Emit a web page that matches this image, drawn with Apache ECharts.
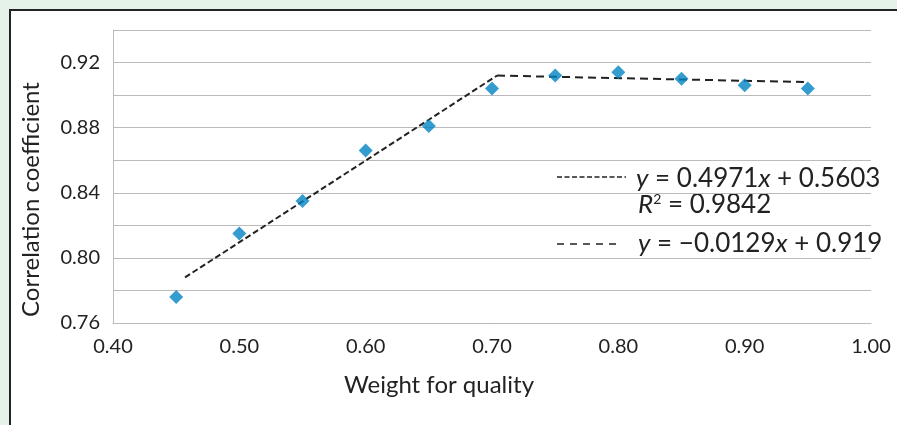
<!DOCTYPE html>
<html>
<head>
<meta charset="utf-8">
<script src="https://cdn.jsdelivr.net/npm/echarts@6/dist/echarts.min.js"></script>
<style>
	html, body { margin: 0; padding: 0; background: #e5f2ea; }
	#panel { position: absolute; left: 9px; top: 9px; right: 0; bottom: 0; background: #fff;
		border-top: 2px solid #222; border-left: 2px solid #222; }
	#chart { position: absolute; left: 0; top: 0; width: 897px; height: 425px; }
</style>
</head>
<body>
<div id="panel"></div>
<div id="chart"></div>
<script>
// 观测点（质量权重, 相关系数）
var weights = [0.45, 0.50, 0.55, 0.60, 0.65, 0.70, 0.75, 0.80, 0.85, 0.90, 0.95];
var coefficients = [0.776, 0.815, 0.835, 0.866, 0.881, 0.904, 0.912, 0.914, 0.910, 0.906, 0.904];

// 两段趋势线的端点
var trendRise = [[0.457, 0.788], [0.704, 0.912]];
var trendFlat = [[0.704, 0.912], [0.949, 0.908]];

var FONT = 'Lato';

var chart = echarts.init(document.getElementById('chart'));

var points = [];
for (var i = 0; i < weights.length; i++) {
	points.push([weights[i], coefficients[i]]);
}

var option = {
	backgroundColor : 'transparent',
	animation : false,
	grid : {
		left : 113,
		top : 30,
		right : 26,
		bottom : 102
	},
	xAxis : {
		type : 'value',
		min : 0.4,
		max : 1.0,
		interval : 0.1,
		name : 'Weight for quality',
		nameLocation : 'middle',
		nameGap : 50,
		nameTextStyle : { fontFamily : FONT, fontSize : 24, color : '#222', padding : [0, 106, 0, 0] },
		axisLine : { show : true, lineStyle : { color : '#bbbbbb', width : 1 } },
		axisTick : { show : false },
		splitLine : { show : false },
		axisLabel : {
			margin : 14,
			fontFamily : FONT,
			fontSize : 20,
			color : '#222',
			formatter : function(v) { return v.toFixed(2); }
		}
	},
	yAxis : {
		type : 'value',
		min : 0.76,
		max : 0.94,
		interval : 0.02,
		name : 'Correlation coefficient',
		nameLocation : 'middle',
		nameGap : 70,
		nameTextStyle : { fontFamily : FONT, fontSize : 24, color : '#222', padding : [0, 46, 0, 0] },
		axisLine : { show : true, lineStyle : { color : '#bbbbbb', width : 1 } },
		axisTick : { show : false },
		splitLine : { show : true, lineStyle : { color : '#bbbbbb', width : 1 } },
		axisLabel : {
			margin : 13,
			fontFamily : FONT,
			fontSize : 20,
			color : '#222',
			formatter : function(v) {
				// 只显示每隔0.04的刻度
				var k = Math.round((v - 0.76) / 0.02);
				return k % 2 === 0 ? v.toFixed(2) : '';
			}
		}
	},
	graphic : [
		{ type : 'line', shape : { x1 : 557, y1 : 177, x2 : 626, y2 : 177 },
			style : { stroke : '#222', lineWidth : 1.5, lineDash : [5, 2.5] } },
		{ type : 'line', shape : { x1 : 557, y1 : 244, x2 : 621, y2 : 244 },
			style : { stroke : '#222', lineWidth : 1.5, lineDash : [7, 6] } },
		{ type : 'text', left : 636, top : 166, style : {
			text : '{i|y} = 0.4971{i|x} + 0.5603',
			fontFamily : FONT, fontSize : 26, fill : '#222',
			rich : { i : { fontStyle : 'italic', fontFamily : FONT, fontSize : 26, fill : '#222' } }
		} },
		{ type : 'text', left : 638, top : 192, style : {
			text : '{i|R}{s|2} = 0.9842',
			fontFamily : FONT, fontSize : 26, fill : '#222',
			rich : {
				i : { fontStyle : 'italic', fontFamily : FONT, fontSize : 26, fill : '#222' },
				s : { fontFamily : FONT, fontSize : 14, fill : '#222', verticalAlign : 'top', padding : [0, 0, 12, 0] }
			}
		} },
		{ type : 'text', left : 638, top : 231, style : {
			text : '{i|y} = \u22120.0129{i|x} + 0.919',
			fontFamily : FONT, fontSize : 26, fill : '#222',
			rich : { i : { fontStyle : 'italic', fontFamily : FONT, fontSize : 26, fill : '#222' } }
		} }
	],
	series : [ {
		name : 'rise',
		type : 'line',
		data : trendRise,
		symbol : 'none',
		silent : true,
		z : 3,
		lineStyle : { color : '#222', width : 2, type : [6, 3] }
	}, {
		name : 'flat',
		type : 'line',
		data : trendFlat,
		symbol : 'none',
		silent : true,
		z : 3,
		lineStyle : { color : '#222', width : 2, type : [8, 5] }
	}, {
		name : 'points',
		type : 'scatter',
		data : points,
		symbol : 'diamond',
		symbolSize : [14, 14],
		z : 4,
		itemStyle : { color : '#0383c4' }
	} ]
};

chart.setOption(option);
</script>
</body>
</html>
